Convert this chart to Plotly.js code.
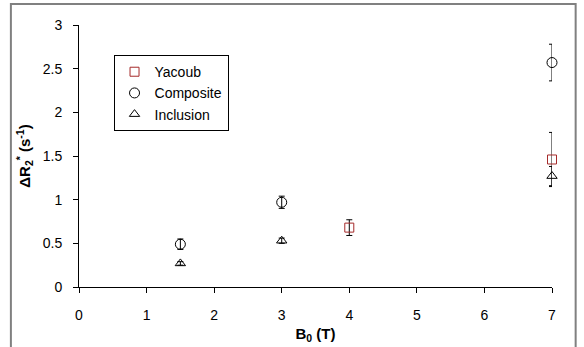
<!DOCTYPE html>
<html>
<head>
<meta charset="utf-8">
<script src="https://cdn.plot.ly/plotly-3.0.1.min.js"></script>
<style>
html,body{margin:0;padding:0;background:#fff;}
#chart{width:584px;height:347px;}
</style>
</head>
<body>
<div id="chart"></div>
<script>
// Data
const yacoubX = [4, 7];
const yacoubY = [0.68, 1.46];
const yacoubErr = [0.09, 0.31];

const compositeX = [1.5, 3, 7];
const compositeY = [0.49, 0.97, 2.57];
const compositeErr = [0.06, 0.07, 0.21];

const inclusionX = [1.5, 3, 7];
const inclusionY = [0.27, 0.53, 1.27];
const inclusionErr = [0.02, 0.03, 0.11];

const xTicks = [0, 1, 2, 3, 4, 5, 6, 7];
const yTicks = [0, 0.5, 1, 1.5, 2, 2.5, 3];
const yTickText = ['0', '0.5', '1', '1.5', '2', '2.5', '3'];

const font = 'Arial, "Liberation Sans", sans-serif';

function errBar(arr) {
  return {type: 'data', array: arr, visible: true, color: '#000', thickness: 1, width: 3};
}

const traces = [
  {
    x: yacoubX, y: yacoubY, name: 'Yacoub', type: 'scatter', mode: 'markers', cliponaxis: false,
    marker: {symbol: 'square-open', size: 9, color: '#A52A2A', line: {width: 1}},
    error_y: errBar(yacoubErr)
  },
  {
    x: compositeX, y: compositeY, name: 'Composite', type: 'scatter', mode: 'markers', cliponaxis: false,
    marker: {symbol: 'circle-open', size: 10, color: '#000', line: {width: 1}},
    error_y: errBar(compositeErr)
  },
  {
    x: inclusionX, y: inclusionY, name: 'Inclusion', type: 'scatter', mode: 'markers', cliponaxis: false,
    marker: {symbol: 'triangle-up-open', size: 9, color: '#000', line: {width: 1}},
    error_y: errBar(inclusionErr)
  }
];

const layout = {
  width: 584, height: 347,
  margin: {l: 79, r: 32, t: 25, b: 60},
  paper_bgcolor: '#fff', plot_bgcolor: '#fff',
  font: {family: font, size: 14, color: '#000'},
  showlegend: true,
  legend: {
    x: 0.073, y: 0.885, xanchor: 'left', yanchor: 'top',
    bgcolor: '#fff', bordercolor: '#000', borderwidth: 1,
    font: {family: font, size: 14, color: '#000'},
    itemwidth: 30,
    tracegroupgap: 0
  },
  xaxis: {
    range: [0, 7], tickvals: xTicks, ticktext: xTicks.map(String),
    showgrid: false, zeroline: false, showline: true, linecolor: '#000', linewidth: 1,
    ticks: 'outside', ticklen: 5, tickcolor: '#000', tickwidth: 1,
    ticklabelstandoff: 10,
    tickfont: {family: font, size: 14, color: '#000'},
    title: {text: '<b>B<sub>0</sub> (T)</b>', font: {family: font, size: 15, color: '#000'}, standoff: 6}
  },
  yaxis: {
    range: [0, 3], tickvals: yTicks, ticktext: yTickText,
    showgrid: false, zeroline: false, showline: true, linecolor: '#000', linewidth: 1,
    ticks: 'outside', ticklen: 5, tickcolor: '#000', tickwidth: 1,
    ticklabelstandoff: 8,
    tickfont: {family: font, size: 14, color: '#000'},
    title: {text: '<b>ΔR<sub>2</sub><sup>*</sup> (s<sup>-1</sup>)</b>', font: {family: font, size: 15, color: '#000'}, standoff: 8}
  },
  shapes: [
    {type: 'rect', xref: 'paper', yref: 'paper',
     x0: -0.144, x1: 1.05, y0: -0.30, y1: 1.08,
     line: {color: '#808080', width: 2}, fillcolor: 'rgba(0,0,0,0)', layer: 'below'}
  ]
};

Plotly.newPlot('chart', traces, layout, {displayModeBar: false, staticPlot: true});
</script>
</body>
</html>
